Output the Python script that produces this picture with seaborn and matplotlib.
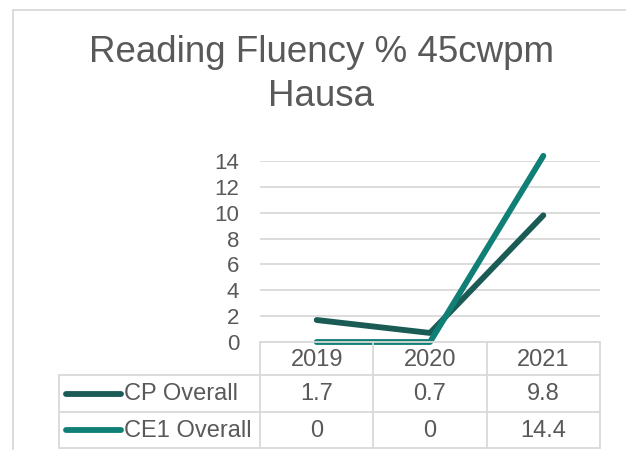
import matplotlib
matplotlib.use("Agg")
import matplotlib.pyplot as plt
import seaborn as sns
import pandas as pd

years = ["2019", "2020", "2021"]
cp_overall = [1.7, 0.7, 9.8]
ce1_overall = [0, 0, 14.4]
series_names = ["CP Overall", "CE1 Overall"]
colors = ["#1A5C55", "#107F76"]

sns.set_style("white")
plt.rcParams['font.family'] = ['Liberation Sans', 'DejaVu Sans']
txt = "#595959"
grid = "#D9D9D9"

W, H = 626, 450
fig = plt.figure(figsize=(W / 100, H / 100), dpi=100)

def fx(x):
    return x / W

def fy(y):
    return 1 - y / H

# plot area in pixels
L, R, T, B = 260, 600, 161, 342
ax = fig.add_axes([fx(L), fy(B), fx(R - L), (B - T) / H])

df = pd.DataFrame({
    "year": years * 2,
    "x": list(range(len(years))) * 2,
    "value": cp_overall + ce1_overall,
    "series": [series_names[0]] * 3 + [series_names[1]] * 3,
})
sns.lineplot(data=df, x="x", y="value", hue="series", palette=colors,
             linewidth=4.2, ax=ax, legend=False, clip_on=False)
for ln in ax.lines:
    ln.set_solid_capstyle("round")
    ln.set_zorder(5)

ax.set_xlim(-0.5, len(years) - 0.5)
ax.set_ylim(0, 14)
ax.set_yticks(range(0, 15, 2))
ax.set_xticks([])
ax.set_xlabel("")
ax.set_ylabel("")
ax.tick_params(axis="y", labelsize=16, labelcolor=txt, length=0, pad=15)
ax.yaxis.grid(True, color=grid, linewidth=1.3)
for s in ax.spines.values():
    s.set_visible(False)

# overlay in pixel coords for frame, title and data table
ov = fig.add_axes([0, 0, 1, 1], zorder=-1)
ov.set_xlim(0, W)
ov.set_ylim(H, 0)
ov.axis("off")
ov.patch.set_alpha(0)

ov.plot([13, 13], [10, 450], color=grid, lw=1.3)
ov.plot([13, 626], [10, 10], color=grid, lw=1.3)

fig.text(fx(321), fy(53), "Reading Fluency % 45cwpm", ha="center", va="center",
         fontsize=26.5, color=txt)
fig.text(fx(321), fy(97), "Hausa", ha="center", va="center",
         fontsize=26.5, color=txt)

# data table
cw = (R - L) / len(years)
col_edges = [L + i * cw for i in range(len(years) + 1)]
row_edges = [B, 375, 412, 448]
TL = 59
tl = fig.add_axes([0, 0, 1, 1], zorder=1)
tl.set_xlim(0, W)
tl.set_ylim(H, 0)
tl.axis("off")
tl.patch.set_alpha(0)
tl.plot([L, R], [B, B], color=grid, lw=1.3)
for y in row_edges[1:]:
    tl.plot([TL, R], [y, y], color=grid, lw=1.3)
for x in col_edges:
    tl.plot([x, x], [B, row_edges[-1]], color=grid, lw=1.3)
tl.plot([TL, TL], [row_edges[1], row_edges[-1]], color=grid, lw=1.3)

for i, yr in enumerate(years):
    tl.text(L + (i + 0.5) * cw, (row_edges[0] + row_edges[1]) / 2 + 1, yr,
            ha="center", va="center", fontsize=17, color=txt)

for r, (name, vals, c) in enumerate(zip(series_names, [cp_overall, ce1_overall], colors)):
    yc = (row_edges[r + 1] + row_edges[r + 2]) / 2
    tl.plot([66, 121], [yc, yc], color=c, lw=4.2, solid_capstyle="round")
    tl.text(124, yc + 1, name, ha="left", va="center", fontsize=17, color=txt)
    for i, v in enumerate(vals):
        tl.text(L + (i + 0.5) * cw, yc + 1, f"{v:g}", ha="center", va="center",
                fontsize=17, color=txt)

fig.savefig("out.png", dpi=100, facecolor="white")
